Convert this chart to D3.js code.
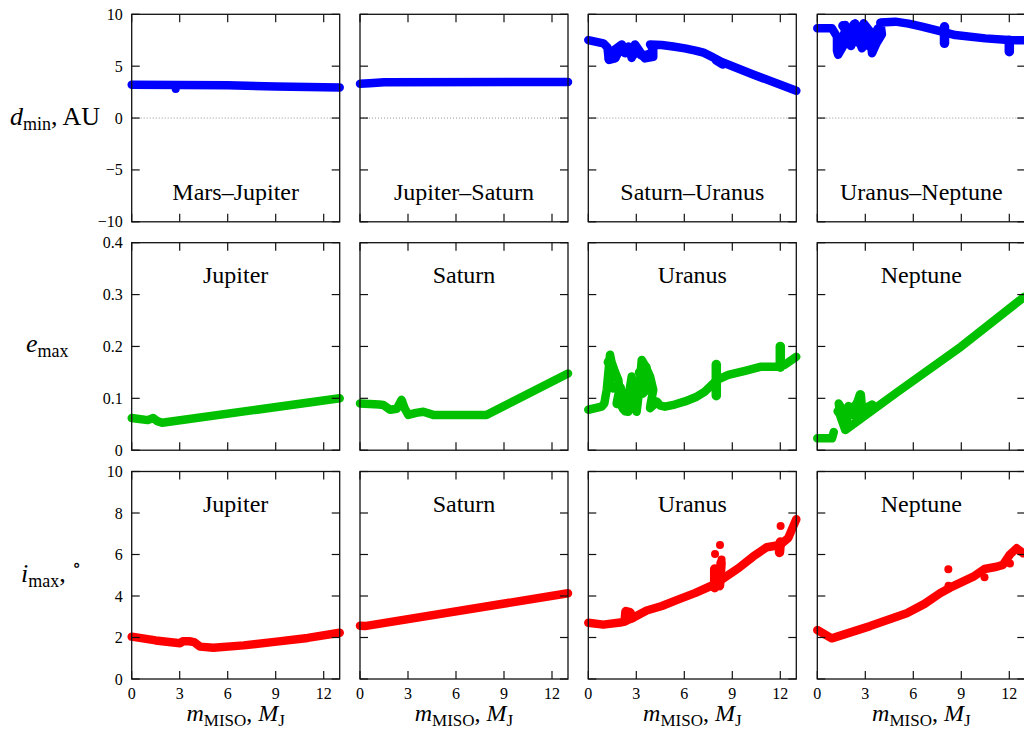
<!DOCTYPE html>
<html>
<head>
<meta charset="utf-8">
<script src="https://cdn.jsdelivr.net/npm/d3@7"></script>
<style>
  html, body { margin: 0; padding: 0; background: #fff; overflow: hidden; }
  text { font-family: "Liberation Serif", "DejaVu Serif", serif; fill: #000; }
</style>
</head>
<body>
<script>
// ---- data: [m_MISO (M_J), value] ----
const xTicks = [0, 3, 6, 9, 12];
const rowDomains = [[-10, 10], [0, 0.4], [0, 10]];
const rowTicks = [[-10, -5, 0, 5, 10], [0, 0.1, 0.2, 0.3, 0.4], [0, 2, 4, 6, 8, 10]];
const rowColors = ["#0000ff", "#00c000", "#ff0000"];
const pairTitles = ["Mars–Jupiter", "Jupiter–Saturn", "Saturn–Uranus", "Uranus–Neptune"];
const planetTitles = ["Jupiter", "Saturn", "Uranus", "Neptune"];

// row 1: d_min, AU
const dMarsJupiter = [[0, 3.2], [3, 3.18], [6, 3.15], [9, 3.05], [13, 2.95]];
const dMarsJupiterDots = [[2.75, 2.8]];
const dJupiterSaturn = [[0, 3.3], [0.6, 3.35], [1.5, 3.45], [13, 3.47]];
const dSaturnUranus = [[0, 7.52], [0.94, 7.2], [1.2, 6.8], [1.25, 6.0], [1.3, 5.6], [1.67, 5.75],
  [1.56, 6.5], [2.09, 7.1], [2.3, 6.6], [2.52, 6.9], [2.71, 5.8], [2.92, 7.1], [3.23, 6.4],
  [3.54, 5.75], [4.06, 5.91], [4.06, 6.6], [3.86, 7.1], [4.59, 7.04], [5.3, 6.9], [6.04, 6.72],
  [6.7, 6.5], [7.2, 6.3], [7.8, 5.85], [8.3, 5.42], [10.3, 4.2], [13, 2.63]];
const dSaturnUranusBlobs = [[[1.3, 5.7], [1.5, 6.2], [1.7, 5.9], [2.0, 6.8], [2.3, 6.3], [2.5, 6.6]],
  [[2.8, 6.1], [3.0, 6.7], [3.3, 6.1], [3.6, 6.0], [4.0, 6.3]], [[8.0, 5.6], [8.4, 5.2]]];
const dUranusNeptune = [[0, 8.65], [0.92, 8.65], [1.23, 7.84], [1.23, 6.5], [1.3, 6.1], [1.65, 7.04],
  [1.75, 8.97], [2.06, 7.36], [2.37, 9.13], [2.6, 7.5], [2.79, 6.72], [2.9, 9.13], [3.31, 8.32],
  [3.42, 6.24], [3.7, 7.2], [4.04, 8.08], [3.94, 9.2], [4.88, 9.29], [5.7, 9.1], [6.54, 8.81],
  [7.79, 8.32], [8.62, 8.0], [10.5, 7.68], [11.96, 7.52], [12.92, 7.5]];
const dUranusNeptuneBlobs = [[[1.3, 6.6], [1.5, 7.6], [1.8, 8.3], [2.1, 7.0], [2.4, 8.5], [2.6, 7.3],
  [2.9, 8.0], [3.2, 7.0], [3.5, 7.5], [3.8, 8.6]], [[1.6, 8.9], [2.0, 8.2], [2.3, 9.0], [2.7, 8.6]],
  [[7.95, 8.8], [7.95, 7.2]], [[12.0, 7.5], [12.0, 6.4]]];

// row 2: e_max
const eJupiter = [[0, 0.062], [1.0, 0.058], [1.35, 0.062], [1.6, 0.056], [1.9, 0.053], [13, 0.1]];
const eSaturn = [[0, 0.09], [1.2, 0.088], [1.46, 0.087], [1.88, 0.078], [2.3, 0.08], [2.6, 0.097],
  [2.8, 0.08], [3.02, 0.068], [3.5, 0.072], [3.96, 0.074], [4.58, 0.068], [7.9, 0.068], [13, 0.148]];
const eUranus = [[0, 0.078], [0.83, 0.084], [1.0, 0.09], [1.15, 0.116], [1.36, 0.184], [1.45, 0.17],
  [1.67, 0.151], [1.88, 0.135], [2.0, 0.1], [2.09, 0.084], [2.3, 0.075], [2.5, 0.074], [2.6, 0.12],
  [2.71, 0.142], [2.85, 0.1], [3.02, 0.074], [3.2, 0.12], [3.34, 0.174], [3.6, 0.16], [3.86, 0.142],
  [4.06, 0.116], [3.9, 0.09], [3.86, 0.081], [4.1, 0.088], [4.27, 0.094], [4.5, 0.086], [4.79, 0.084],
  [5.4, 0.088], [6.04, 0.094], [6.7, 0.102], [7.29, 0.113], [8.02, 0.135], [8.75, 0.145],
  [9.8, 0.153], [10.8, 0.161], [11.9, 0.161], [12.3, 0.165], [13, 0.18]];
const eUranusBlobs = [[[1.25, 0.17], [1.5, 0.16], [1.3, 0.13], [1.55, 0.12]],
  [[1.8, 0.09], [2.0, 0.12], [2.2, 0.08], [2.4, 0.11], [2.6, 0.08], [2.8, 0.12], [2.9, 0.085]],
  [[3.2, 0.15], [3.5, 0.14], [3.4, 0.11], [3.7, 0.12], [3.6, 0.16]],
  [[8.0, 0.165], [8.0, 0.105]], [[12.0, 0.2], [12.0, 0.16]]];
const eNeptune = [[0, 0.023], [0.92, 0.023], [1.03, 0.035]];
const eNeptuneMain = [[1.34, 0.09], [1.45, 0.065], [1.75, 0.039], [5, 0.112], [9, 0.2], [12.95, 0.296]];
const eNeptuneBlobs = [[[1.3, 0.075], [1.65, 0.062], [1.75, 0.045], [1.96, 0.084], [2.27, 0.068],
  [2.69, 0.107], [2.79, 0.071], [3.0, 0.08], [3.42, 0.087]], [[1.4, 0.085], [1.6, 0.07], [2.1, 0.075], [2.5, 0.09]]];

// row 3: i_max, degrees
const iJupiter = [[0, 2.04], [1.5, 1.86], [3.02, 1.72], [3.2, 1.82], [3.6, 1.82], [3.9, 1.78],
  [4.27, 1.56], [5.1, 1.51], [7, 1.62], [9.06, 1.8], [11, 1.98], [13, 2.23]];
const iSaturn = [[0, 2.57], [0.3, 2.55], [13, 4.13]];
const iUranus = [[0, 2.71], [0.94, 2.62], [2.0, 2.72], [2.19, 2.75], [2.8, 2.95], [3.65, 3.3],
  [4.6, 3.52], [5.52, 3.8], [6.7, 4.15], [7.8, 4.53], [8.44, 4.85], [9.4, 5.35], [10.3, 5.9],
  [11.15, 6.35], [11.98, 6.46], [12.5, 6.8], [13, 7.7]];
const iUranusBlobs = [[[2.3, 2.8], [2.35, 3.25], [2.6, 3.2], [2.75, 2.95]], [[7.9, 4.4], [7.9, 5.3]],
  [[8.2, 4.5], [8.3, 5.6]], [[11.95, 6.1], [12.0, 6.6]]];
const iUranusDots = [[7.92, 6.02], [8.23, 6.46], [8.33, 5.76], [12.02, 7.37]];
const iNeptune = [[0, 2.36], [0.9, 1.96], [3.3, 2.55], [5.59, 3.17], [6.7, 3.62], [7.67, 4.13],
  [8.3, 4.4], [9.75, 4.93], [10.45, 5.3], [11.21, 5.41], [11.6, 5.5], [12.04, 6.0], [12.46, 6.3],
  [12.87, 6.06]];
const iNeptuneDots = [[8.19, 5.29], [10.45, 4.9], [12.04, 5.57], [8.2, 4.5]];

const panels = [
  [{tracks: [dMarsJupiter], blobs: [], dots: dMarsJupiterDots},
   {tracks: [dJupiterSaturn], blobs: [], dots: []},
   {tracks: [dSaturnUranus], blobs: dSaturnUranusBlobs, dots: []},
   {tracks: [dUranusNeptune], blobs: dUranusNeptuneBlobs, dots: []}],
  [{tracks: [eJupiter], blobs: [], dots: []},
   {tracks: [eSaturn], blobs: [], dots: []},
   {tracks: [eUranus], blobs: eUranusBlobs, dots: []},
   {tracks: [eNeptune, eNeptuneMain], blobs: eNeptuneBlobs, dots: []}],
  [{tracks: [iJupiter], blobs: [], dots: []},
   {tracks: [iSaturn], blobs: [], dots: []},
   {tracks: [iUranus], blobs: iUranusBlobs, dots: iUranusDots},
   {tracks: [iNeptune], blobs: [], dots: iNeptuneDots}]
];

// ---- layout ----
const colLeft = [131.7, 360, 588.3, 817.3];
const rowTop = [14.3, 242.7, 471.5];
const W = 208, H = 207.5, tick = 8;

const svg = d3.select("body").append("svg")
  .attr("width", 1024).attr("height", 736);

const x = d3.scaleLinear().domain([0, 13]).range([0, W]);
const fmt = [d => d < 0 ? "\u2212" + Math.abs(d) : d, d => d === 0 ? "0" : d.toFixed(1), d => d];

panels.forEach((row, r) => {
  const y = d3.scaleLinear().domain(rowDomains[r]).range([H, 0]);
  row.forEach((p, c) => {
    const g = svg.append("g").attr("transform", `translate(${colLeft[c]},${rowTop[r]})`);

    if (r === 0) {
      g.append("line").attr("x1", 0).attr("x2", W).attr("y1", y(0)).attr("y2", y(0))
        .attr("stroke", "#777").attr("stroke-width", 0.8).attr("stroke-dasharray", "1,2");
    }

    const line = d3.line().x(d => x(d[0])).y(d => y(d[1]));
    p.tracks.forEach(t => {
      g.append("path").attr("d", line(t)).attr("fill", "none")
        .attr("stroke", rowColors[r]).attr("stroke-width", 8.5)
        .attr("stroke-linecap", "round").attr("stroke-linejoin", "round");
    });
    p.blobs.forEach(t => {
      g.append("path").attr("d", line(t)).attr("fill", "none")
        .attr("stroke", rowColors[r]).attr("stroke-width", 9.5)
        .attr("stroke-linecap", "round").attr("stroke-linejoin", "round");
    });
    g.selectAll("circle.dot").data(p.dots).join("circle").attr("class", "dot")
      .attr("cx", d => x(d[0])).attr("cy", d => y(d[1])).attr("r", 4).attr("fill", rowColors[r]);

    // ticks, inward on every side
    const tg = g.append("g").attr("stroke", "#111").attr("stroke-width", 1.2);
    xTicks.forEach(t => {
      tg.append("line").attr("x1", x(t)).attr("x2", x(t)).attr("y1", H).attr("y2", H - tick);
      tg.append("line").attr("x1", x(t)).attr("x2", x(t)).attr("y1", 0).attr("y2", tick);
    });
    rowTicks[r].forEach(t => {
      tg.append("line").attr("x1", 0).attr("x2", tick).attr("y1", y(t)).attr("y2", y(t));
      tg.append("line").attr("x1", W).attr("x2", W - tick).attr("y1", y(t)).attr("y2", y(t));
    });
    g.append("rect").attr("width", W).attr("height", H)
      .attr("fill", "none").attr("stroke", "#111").attr("stroke-width", 1.3);

    if (c === 0) {
      rowTicks[r].forEach(t => {
        g.append("text").attr("x", -9).attr("y", y(t) + 5.5)
          .attr("text-anchor", "end").style("font-size", "16px").text(fmt[r](t));
      });
    }
    if (r === 2) {
      xTicks.forEach(t => {
        g.append("text").attr("x", x(t)).attr("y", H + 20)
          .attr("text-anchor", "middle").style("font-size", "16px").text(t);
      });
      const xl = g.append("text").attr("x", W / 2).attr("y", H + 42)
        .attr("text-anchor", "middle").style("font-size", "24px");
      xl.append("tspan").style("font-style", "italic").text("m");
      xl.append("tspan").attr("dy", 5).style("font-size", "17px").text("MISO");
      xl.append("tspan").attr("dy", -5).text(", ");
      xl.append("tspan").style("font-style", "italic").text("M");
      xl.append("tspan").attr("dy", 5).style("font-size", "17px").text("J");
    }

    const title = r === 0 ? pairTitles[c] : planetTitles[c];
    g.append("text").attr("x", W / 2).attr("y", r === 0 ? 186 : 40)
      .attr("text-anchor", "middle").style("font-size", "24px").text(title);
  });
});

// row labels
const yl1 = svg.append("text").attr("x", 10).attr("y", 125).style("font-size", "26px");
yl1.append("tspan").style("font-style", "italic").text("d");
yl1.append("tspan").attr("dy", 5).style("font-size", "18px").text("min");
yl1.append("tspan").attr("dy", -5).text(", AU");

const yl2 = svg.append("text").attr("x", 26).attr("y", 352).style("font-size", "26px");
yl2.append("tspan").style("font-style", "italic").text("e");
yl2.append("tspan").attr("dy", 5).style("font-size", "18px").text("max");

const yl3 = svg.append("text").attr("x", 21).attr("y", 582).style("font-size", "26px");
yl3.append("tspan").style("font-style", "italic").text("i");
yl3.append("tspan").attr("dy", 5).style("font-size", "18px").text("max");
yl3.append("tspan").attr("dy", -5).text(", ");
yl3.append("tspan").attr("dy", -11).style("font-size", "18px").text("\u2218");
</script>
</body>
</html>
